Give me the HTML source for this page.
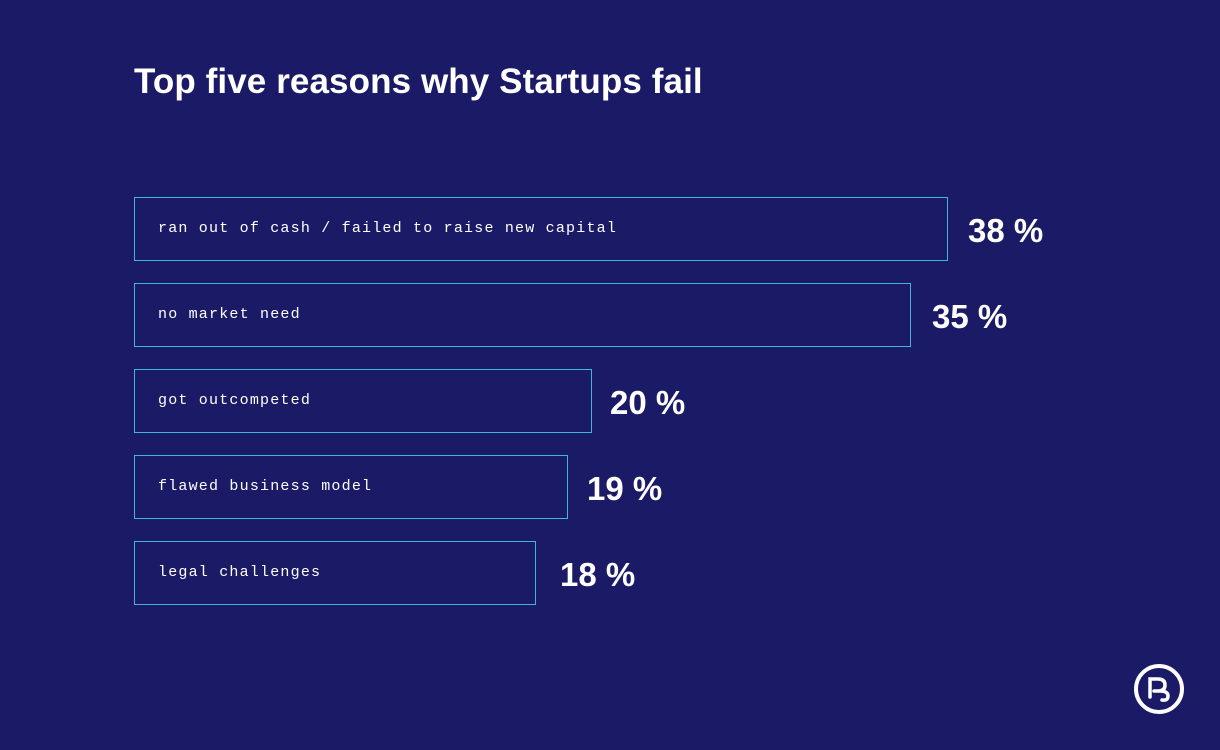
<!DOCTYPE html>
<html><head><style>
html,body{margin:0;padding:0}
body{width:1220px;height:750px;background:#1b1a66;position:relative;overflow:hidden;font-family:"Liberation Sans",sans-serif;color:#fff}
h1{position:absolute;left:134px;top:62px;margin:0;font-size:35px;font-weight:bold;letter-spacing:0.1px}
.b{position:absolute;left:134px;height:64px;border:1px solid #3fb8d8;box-sizing:border-box}
.b span{position:absolute;left:23px;top:22px;font-family:"Liberation Mono",monospace;font-size:15px;letter-spacing:1.2px;color:#fff}
.p{position:absolute;font-size:33px;font-weight:bold;line-height:1}
</style></head><body>
<h1>Top five reasons why Startups fail</h1>
<div class="b" style="top:197px;width:814px"><span>ran out of cash / failed to raise new capital</span></div>
<div class="p" style="left:968px;top:214px">38 %</div>
<div class="b" style="top:283px;width:777px"><span>no market need</span></div>
<div class="p" style="left:932px;top:300px">35 %</div>
<div class="b" style="top:369px;width:458px"><span>got outcompeted</span></div>
<div class="p" style="left:610px;top:386px">20 %</div>
<div class="b" style="top:455px;width:434px"><span>flawed business model</span></div>
<div class="p" style="left:587px;top:472px">19 %</div>
<div class="b" style="top:541px;width:402px"><span>legal challenges</span></div>
<div class="p" style="left:560px;top:558px">18 %</div>
<svg style="position:absolute;left:1133px;top:663px" width="52" height="52" viewBox="0 0 52 52">
<circle cx="26" cy="26" r="23" fill="none" stroke="#fff" stroke-width="4"/>
<path d="M17 34 L17 16 L25 16 Q32 16 32 22 Q32 28 25 28 L21 28 M27 28 Q35 28 35 33 Q35 38 29 37" fill="none" stroke="#fff" stroke-width="3.5" stroke-linecap="round"/>
</svg>
</body></html>
